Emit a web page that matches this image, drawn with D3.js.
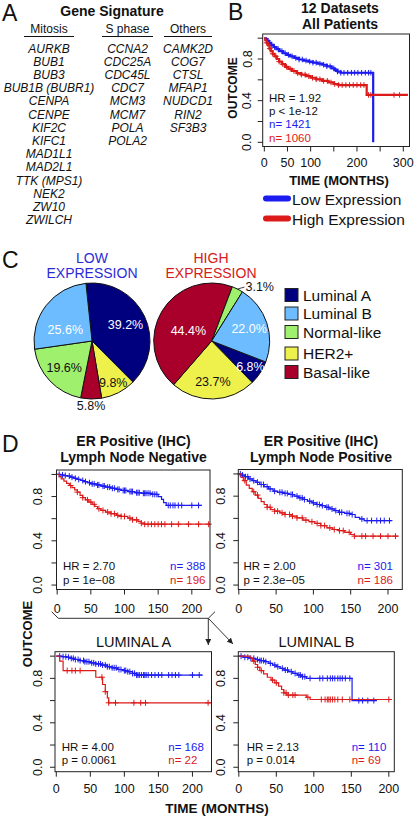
<!DOCTYPE html>
<html><head><meta charset="utf-8">
<script src="https://cdn.jsdelivr.net/npm/d3@7"></script>
<style>
body{margin:0;background:#fff}
svg{display:block}
text{font-family:"Liberation Sans",Arial,Helvetica,sans-serif}
</style>
</head><body><svg id="c" width="418" height="817"></svg>
<script>
// ---------------- DATA ----------------
const mitosisGenes = ["AURKB","BUB1","BUB3","BUB1B (BUBR1)","CENPA","CENPE","KIF2C","KIFC1","MAD1L1","MAD2L1","TTK (MPS1)","NEK2","ZW10","ZWILCH"];
const sPhaseGenes = ["CCNA2","CDC25A","CDC45L","CDC7","MCM3","MCM7","POLA","POLA2"];
const otherGenes = ["CAMK2D","COG7","CTSL","MFAP1","NUDCD1","RIN2","SF3B3"];
const geneHeaders = ["Mitosis","S phase","Others"];

const subtypes = ["Luminal A","Luminal B","Normal-like","HER2+","Basal-like"];
const subtypeColors = ["#00007f","#6cbcff","#9ff06c","#eef04c","#a8002a"];
const lowExprPct = [39.2, 25.6, 19.6, 9.8, 5.8];
const highExprPct = [6.8, 22.0, 3.1, 23.7, 44.4];
const pieOrder = [0, 3, 4, 2, 1]; // clockwise order of slices

// Panel B: 12 datasets, all patients  ([time, survival] change points)
const allLowSteps = [[0,1],[3,0.99],[6,0.975],[10,0.955],[15,0.935],[20,0.915],[26,0.895],[32,0.875],[40,0.855],[48,0.84],[56,0.825],[65,0.81],[75,0.795],[85,0.785],[95,0.775],[105,0.765],[115,0.755],[125,0.745],[135,0.73],[145,0.71],[152,0.695],[158,0.68],[165,0.668],[235,0.0]];
const allLowCensor = [8,15,22,30,38,45,52,60,68,75,82,90,98,105,112,120,128,135,142,150,158,165,172,180,188,195,202,210,218,225,230];
const allHighSteps = [[0,1],[2,0.98],[5,0.955],[8,0.93],[11,0.9],[14,0.875],[18,0.85],[22,0.825],[27,0.8],[32,0.775],[38,0.75],[45,0.725],[52,0.705],[60,0.685],[70,0.665],[80,0.65],[90,0.635],[100,0.62],[112,0.605],[125,0.59],[138,0.575],[150,0.56],[160,0.55],[221,0.455],[310,0.455]];
const allHighCensor = [5,12,18,25,32,40,48,56,64,72,80,88,96,104,112,120,128,136,144,152,160,168,176,184,192,200,208,215,225,230,280,292];

// ER+ LN-
const lnNegLowSteps = [[0,1],[5,0.995],[10,0.99],[15,0.985],[20,0.975],[25,0.965],[30,0.955],[35,0.945],[40,0.935],[45,0.925],[50,0.915],[58,0.905],[65,0.895],[72,0.885],[80,0.875],[88,0.865],[95,0.855],[105,0.845],[115,0.835],[125,0.83],[140,0.82],[150,0.8],[155,0.775],[158,0.745],[162,0.72],[215,0.72]];
const lnNegLowCensor = [3,8,12,18,22,27,32,38,42,48,52,55,60,62,68,70,75,78,82,85,90,92,98,100,102,108,110,112,118,120,122,128,130,132,135,138,142,145,148,165,168,172,175,180,185,200,210];
const lnNegHighSteps = [[0,1],[3,0.98],[6,0.96],[10,0.94],[14,0.92],[18,0.9],[22,0.88],[26,0.86],[30,0.84],[34,0.81],[38,0.79],[42,0.77],[47,0.75],[52,0.73],[56,0.71],[60,0.69],[65,0.675],[72,0.66],[80,0.645],[88,0.63],[95,0.62],[105,0.605],[112,0.59],[120,0.575],[125,0.56],[130,0.55],[227,0.55]];
const lnNegHighCensor = [20,30,38,45,50,55,62,68,75,80,85,90,95,100,108,112,118,125,130,135,140,145,150,155,160,170,180,195,210,225];

// ER+ LN+
const lnPosLowSteps = [[0,1],[3,0.99],[8,0.975],[13,0.955],[18,0.94],[23,0.925],[28,0.905],[34,0.885],[40,0.865],[46,0.845],[52,0.835],[60,0.825],[67,0.815],[74,0.8],[80,0.785],[86,0.77],[92,0.755],[98,0.74],[104,0.725],[110,0.715],[116,0.7],[122,0.685],[128,0.67],[134,0.655],[142,0.645],[150,0.635],[156,0.61],[162,0.595],[168,0.58],[205,0.58]];
const lnPosLowCensor = [2,5,9,12,15,20,25,30,33,38,42,48,55,58,62,65,70,72,78,82,85,88,95,100,105,108,112,118,120,125,130,135,138,145,148,152,165,172,178,185,190,195,202];
const lnPosHighSteps = [[0,1],[3,0.97],[6,0.94],[10,0.9],[14,0.87],[18,0.84],[22,0.81],[26,0.78],[30,0.75],[34,0.725],[38,0.7],[43,0.68],[48,0.665],[55,0.65],[62,0.635],[70,0.62],[78,0.605],[86,0.585],[94,0.57],[102,0.555],[110,0.535],[118,0.515],[126,0.5],[134,0.49],[142,0.475],[150,0.455],[155,0.44],[214,0.44]];
const lnPosHighCensor = [8,20,25,38,42,48,52,58,62,68,72,78,85,90,98,105,110,115,122,128,135,140,148,155,165,170,180,190,200,210];

// Luminal A
const lumALowSteps = [[0,1],[8,0.995],[15,0.99],[22,0.98],[28,0.97],[35,0.96],[42,0.95],[50,0.94],[58,0.93],[66,0.92],[75,0.905],[82,0.895],[90,0.88],[98,0.87],[105,0.86],[112,0.845],[118,0.83],[215,0.83]];
const lumALowCensor = [5,10,14,18,22,25,28,32,35,40,42,45,48,52,55,58,62,65,68,72,75,78,82,85,88,92,95,100,102,105,108,112,115,118,120,122,125,128,130,132,135,140,145,150,155,165,170,175,180,200,210];
const lumAHighSteps = [[0,1],[5,0.955],[10,0.87],[58,0.81],[68,0.745],[72,0.68],[75,0.625],[77,0.58],[227,0.58]];
const lumAHighCensor = [16,23,28,35,67,72,77,87,114,124,131,223];

// Luminal B
const lumBLowSteps = [[0,1],[6,0.99],[14,0.98],[22,0.97],[28,0.96],[34,0.95],[40,0.935],[45,0.92],[50,0.905],[55,0.89],[60,0.875],[66,0.86],[72,0.845],[78,0.83],[84,0.815],[90,0.8],[151,0.6],[184,0.6]];
const lumBLowCensor = [3,8,12,16,20,25,28,30,33,36,42,48,52,58,62,65,70,75,80,82,85,88,95,108,112,118,122,125,128,132,135,138,142,148,160,165,172,180];
const lumBHighSteps = [[0,1],[15,0.985],[18,0.955],[22,0.925],[25,0.9],[28,0.87],[33,0.84],[38,0.81],[43,0.785],[48,0.76],[53,0.73],[57,0.7],[60,0.67],[64,0.65],[90,0.63],[95,0.61],[204,0.61]];
const lumBHighCensor = [20,25,30,45,50,60,63,66,72,75,92,110,115,118,120,122,125,128,132,138,148,200];

const yTickVals = [0, 0.2, 0.4, 0.6, 0.8, 1.0];
const yLabelVals = [0, 0.4, 0.8];
const xTicksB = [0,50,100,150,200,250,300];
const xLabelsB = [0,50,100,200,300];
const xTicksD = [0,50,100,150,200];

// ---------------- DRAWING ----------------
const BLUE = "#1c1cf0", RED = "#dc1a1a";
const svg = d3.select("#c");

function txt(x, y, s, o = {}) {
  const t = svg.append("text").attr("x", x).attr("y", y).text(s)
    .attr("font-size", o.size || 12).attr("fill", o.fill || "#111")
    .attr("text-anchor", o.anchor || "start");
  if (o.weight) t.attr("font-weight", o.weight);
  if (o.style) t.attr("font-style", o.style);
  if (o.rotate) t.attr("transform", `rotate(${o.rotate},${x},${y})`);
  if (o.dy) t.attr("dy", o.dy);
  return t;
}
// two-line block; second line baseline fixed at y2
function txt2(x, y2, lines, gap, o = {}) {
  lines.forEach((s, i) => txt(x, y2 - (lines.length - 1 - i) * gap, s, o));
}

// Panel letters
txt(2, 21, "A", {size: 23});
txt(228, 20, "B", {size: 23});
txt(2, 268, "C", {size: 23});
txt(2, 452, "D", {size: 23});

// ---- Panel A ----
txt(112, 16, "Gene Signature", {size: 14, weight: "bold", anchor: "middle"});
const colX = [49, 127.5, 188];
const underline = [[24,74],[102,153],[164,212]];
[mitosisGenes, sPhaseGenes, otherGenes].forEach((list, ci) => {
  txt(colX[ci], 33, geneHeaders[ci], {size: 12, anchor: "middle"});
  svg.append("line").attr("x1", underline[ci][0]).attr("x2", underline[ci][1])
    .attr("y1", 36.5).attr("y2", 36.5).attr("stroke", "#111").attr("stroke-width", 1);
  list.forEach((g, i) => txt(colX[ci], 52.5 + i * 13.2, g, {size: 12, style: "italic", anchor: "middle"}));
});

// ---- KM helper ----
const STAT_FS = 11.5, STAT_GAP = 13.3;
function survAt(steps, t) {
  let s = 1;
  for (const [ti, si] of steps) if (ti <= t) s = si;
  return s;
}
function km(c) {
  const x = d3.scaleLinear().domain(c.xDom).range([c.L, c.R]);
  const y = d3.scaleLinear().domain([-0.04, 1.04]).range([c.B, c.T]);
  const g = svg.append("g");
  const line = d3.line().x(d => x(d[0])).y(d => y(d[1])).curve(d3.curveStepAfter);
  c.curves.forEach(cv => {
    g.append("path").attr("d", line(cv.steps)).attr("fill", "none")
      .attr("stroke", cv.color).attr("stroke-width", c.lw);
    cv.censor.forEach(t => {
      const cx = x(t), cy = y(survAt(cv.steps, t));
      g.append("path").attr("d", `M${cx - c.cs},${cy}H${cx + c.cs}M${cx},${cy - c.cs}V${cy + c.cs}`)
        .attr("stroke", cv.color).attr("stroke-width", 1);
    });
  });
  g.append("rect").attr("x", c.L).attr("y", c.T).attr("width", c.R - c.L).attr("height", c.B - c.T)
    .attr("fill", "none").attr("stroke", "#222").attr("stroke-width", 1);
  c.xTicks.forEach(t => g.append("line").attr("x1", x(t)).attr("x2", x(t)).attr("y1", c.B).attr("y2", c.B + 5)
    .attr("stroke", "#222"));
  c.xLabels.forEach(t => txt(x(t), c.xLabY, String(t), {size: 12.5, anchor: "middle"}));
  yTickVals.forEach(v => g.append("line").attr("x1", c.L).attr("x2", c.L - 5).attr("y1", y(v)).attr("y2", y(v))
    .attr("stroke", "#222"));
  yLabelVals.forEach(v => txt(c.yLabX, y(v), v.toFixed(1), {size: 12.5, anchor: "middle", rotate: -90}));
  const n = c.stats.length;
  c.stats.forEach((s, i) => txt(c.statX, c.lastY - (n - 1 - i) * STAT_GAP, s, {size: STAT_FS}));
  const m = c.ns.length;
  c.ns.forEach((s, i) => txt(c.nX, c.nLastY - (m - 1 - i) * STAT_GAP, s, {size: STAT_FS, fill: i === 0 ? BLUE : RED}));
  return {x, y};
}

// ---- Panel B ----
txt2(340, 29, ["12 Datasets", "All Patients"], 15.8, {size: 14, weight: "bold", anchor: "middle"});
km({L: 262.7, R: 409.5, T: 34, B: 146.5, xDom: [-3.5, 313.4], lw: 2.2, cs: 2.8,
  xTicks: xTicksB, xLabels: xLabelsB, xLabY: 166.5, yLabX: 251.5,
  curves: [{steps: allLowSteps, censor: allLowCensor, color: BLUE},
           {steps: allHighSteps, censor: allHighCensor, color: RED}],
  stats: ["HR = 1.92", "p < 1e-12"], statX: 269, lastY: 141.5 - 2 * STAT_GAP,
  ns: ["n= 1421", "n= 1060"], nX: 269, nLastY: 141.5});
txt(233, 88, "OUTCOME", {size: 12, weight: "bold", anchor: "middle", rotate: -90, dy: "0.35em"});
txt(339, 185, "TIME (MONTHS)", {size: 13, weight: "bold", anchor: "middle"});
[["Low Expression", BLUE, 198.5], ["High Expression", RED, 218.5]].forEach(([lab, col, yy]) => {
  svg.append("line").attr("x1", 266).attr("x2", 288).attr("y1", yy).attr("y2", yy)
    .attr("stroke", col).attr("stroke-width", 6).attr("stroke-linecap", "round");
  txt(292, yy + 6, lab, {size: 15.5});
});

// ---- Panel C ----
function drawPie(cx, cy, r, pcts, start, labelCfg) {
  const data = pieOrder.map(i => ({i, v: pcts[i]}));
  const arcs = d3.pie().sort(null).value(d => d.v).startAngle(start).endAngle(start + 2 * Math.PI)(data);
  const arc = d3.arc().innerRadius(0).outerRadius(r);
  const g = svg.append("g").attr("transform", `translate(${cx},${cy})`);
  g.selectAll("path").data(arcs).join("path").attr("d", arc)
    .attr("fill", d => subtypeColors[d.data.i]).attr("stroke", "#111").attr("stroke-width", 1);
  arcs.forEach(a => {
    const lc = labelCfg[a.data.i];
    const mid = (a.startAngle + a.endAngle) / 2 + (lc.da || 0) * Math.PI / 180;
    const rr = r * lc.rf;
    const lx = rr * Math.sin(mid), ly = -rr * Math.cos(mid);
    const label = a.data.v.toFixed(1) + "%";
    if (lc.leader) {
      const ex = r * Math.sin(mid), ey = -r * Math.cos(mid);
      g.append("line").attr("x1", ex).attr("y1", ey).attr("x2", ex + 7).attr("y2", ey - 2)
        .attr("stroke", "#111").attr("stroke-width", 0.8);
      g.append("text").attr("x", ex + 8).attr("y", ey - 2).attr("dy", "0.35em").text(label)
        .attr("font-size", 12.5).attr("fill", "#111");
    } else {
      g.append("text").attr("x", lx).attr("y", ly).attr("dy", "0.35em").attr("text-anchor", "middle")
        .text(label).attr("font-size", 12.5).attr("fill", lc.fill);
    }
  });
}
drawPie(92, 341, 58, lowExprPct, -6 * Math.PI / 180, [
  {rf: 0.64, fill: "#fff"}, {rf: 0.5, da: -15, fill: "#fff"}, {rf: 0.66, fill: "#111"},
  {rf: 0.8, fill: "#111"}, {rf: 1.12, fill: "#111"}]);
drawPie(211.7, 341, 58, highExprPct, 111.2 * Math.PI / 180, [
  {rf: 0.8, fill: "#fff"}, {rf: 0.68, fill: "#fff"}, {rf: 1, leader: true},
  {rf: 0.7, fill: "#111"}, {rf: 0.44, da: -7, fill: "#fff"}]);
txt2(92, 278, ["LOW", "EXPRESSION"], 15, {size: 14, anchor: "middle", fill: "#2b2bd6"});
txt2(211, 278, ["HIGH", "EXPRESSION"], 15, {size: 14, anchor: "middle", fill: "#d42020"});
subtypes.forEach((s, i) => {
  const yy = 295 + i * 18.5 + (i >= 3 ? 3 : 0);
  svg.append("rect").attr("x", 285).attr("y", yy - 6.5).attr("width", 13).attr("height", 13)
    .attr("fill", subtypeColors[i]).attr("stroke", "#222").attr("stroke-width", 1);
  txt(303, yy + 5.5, s, {size: 15.5});
});

// ---- Panel D ----
txt2(133.5, 462, ["ER Positive (IHC)", "Lymph Node Negative"], 15.8, {size: 14, weight: "bold", anchor: "middle"});
txt2(321, 462, ["ER Positive (IHC)", "Lymph Node Positive"], 15.8, {size: 14, weight: "bold", anchor: "middle"});
txt(133.5, 646.5, "LUMINAL A", {size: 14.5, anchor: "middle"});
txt(316.5, 646.5, "LUMINAL B", {size: 14.5, anchor: "middle"});

km({L: 56.5, R: 210, T: 470, B: 589.5, xDom: [-1, 227], lw: 1.2, cs: 3,
  xTicks: xTicksD, xLabels: xTicksD, xLabY: 613, yLabX: 42.5,
  curves: [{steps: lnNegLowSteps, censor: lnNegLowCensor, color: BLUE},
           {steps: lnNegHighSteps, censor: lnNegHighCensor, color: RED}],
  stats: ["HR = 2.70", "p = 1e\u221208"], statX: 63, lastY: 583.5,
  ns: ["n= 388", "n= 196"], nX: 170, nLastY: 583.5});
km({L: 238.3, R: 402.3, T: 469.5, B: 589.5, xDom: [-0.7, 219.2], lw: 1.2, cs: 3,
  xTicks: xTicksD, xLabels: xTicksD, xLabY: 613, yLabX: 225.5,
  curves: [{steps: lnPosLowSteps, censor: lnPosLowCensor, color: BLUE},
           {steps: lnPosHighSteps, censor: lnPosHighCensor, color: RED}],
  stats: ["HR = 2.00", "p = 2.3e\u221205"], statX: 243.5, lastY: 583.5,
  ns: ["n= 301", "n= 186"], nX: 357.5, nLastY: 583.5});
km({L: 55, R: 211.5, T: 651.7, B: 771.7, xDom: [-1.9, 228], lw: 1.2, cs: 3,
  xTicks: xTicksD, xLabels: xTicksD, xLabY: 793.3, yLabX: 42.5,
  curves: [{steps: lumALowSteps, censor: lumALowCensor, color: BLUE},
           {steps: lumAHighSteps, censor: lumAHighCensor, color: RED}],
  stats: ["HR = 4.00", "p = 0.0061"], statX: 61.7, lastY: 764,
  ns: ["n= 168", "n= 22"], nX: 168.3, nLastY: 764});
km({L: 238.3, R: 394.3, T: 651.7, B: 771.7, xDom: [-0.7, 207.3], lw: 1.2, cs: 3,
  xTicks: xTicksD, xLabels: xTicksD, xLabY: 793.3, yLabX: 225.5,
  curves: [{steps: lumBLowSteps, censor: lumBLowCensor, color: BLUE},
           {steps: lumBHighSteps, censor: lumBHighCensor, color: RED}],
  stats: ["HR = 2.13", "p = 0.014"], statX: 246.7, lastY: 764,
  ns: ["n= 110", "n= 69"], nX: 351.7, nLastY: 764});

txt(27, 634, "OUTCOME", {size: 13, weight: "bold", anchor: "middle", rotate: -90, dy: "0.35em"});
txt(217, 813, "TIME (MONTHS)", {size: 13.5, weight: "bold", anchor: "middle"});

// arrows
const defs = svg.append("defs");
defs.append("marker").attr("id", "ah").attr("viewBox", "0 0 10 10").attr("refX", 10).attr("refY", 5)
  .attr("markerWidth", 6).attr("markerHeight", 6).attr("orient", "auto")
  .append("path").attr("d", "M0,0L10,5L0,10z").attr("fill", "#222");
svg.append("path").attr("d", "M51.7,611.7L58.3,618.3H208.3L215,611.7").attr("fill", "none")
  .attr("stroke", "#333").attr("stroke-width", 1);
svg.append("line").attr("x1", 208.3).attr("y1", 618.3).attr("x2", 208.3).attr("y2", 645)
  .attr("stroke", "#333").attr("stroke-width", 1).attr("marker-end", "url(#ah)");
svg.append("line").attr("x1", 208.3).attr("y1", 618.3).attr("x2", 233).attr("y2", 644)
  .attr("stroke", "#333").attr("stroke-width", 1).attr("marker-end", "url(#ah)");
</script></body></html>
